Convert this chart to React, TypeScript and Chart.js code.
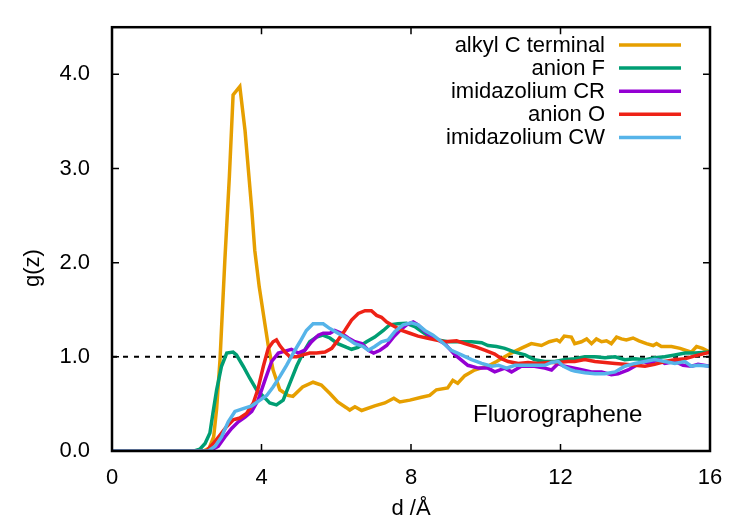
import React, { useEffect, useRef } from "react";
import { Chart, registerables } from "chart.js";

Chart.register(...registerables);

const xTicks = [0, 4, 8, 12, 16];
const yTicks = [0, 1, 2, 3, 4];

const seriesNames = [
  "alkyl C terminal",
  "anion F",
  "imidazolium CR",
  "anion O",
  "imidazolium CW",
];
const seriesColors = ["#E69F00", "#009E73", "#9400D3", "#EE2216", "#56B4E9"];

const alkylC: [number, number][] = [
  [0, 0], [2.45, 0], [2.6, 0.03], [2.72, 0.15], [2.8, 0.45], [2.89, 0.97], [3.02, 2.03],
  [3.14, 2.91], [3.24, 3.78], [3.42, 3.87], [3.56, 3.4], [3.65, 2.98], [3.74, 2.56],
  [3.82, 2.13], [3.94, 1.74], [4.09, 1.35], [4.18, 1.12], [4.31, 0.86], [4.49, 0.65],
  [4.71, 0.59], [4.84, 0.58], [5.1, 0.68], [5.38, 0.73], [5.6, 0.7], [5.83, 0.61],
  [6.04, 0.52], [6.27, 0.46], [6.36, 0.435], [6.5, 0.47], [6.68, 0.43], [7.03, 0.48],
  [7.3, 0.51], [7.54, 0.56], [7.7, 0.52], [7.97, 0.54], [8.28, 0.57], [8.5, 0.59],
  [8.68, 0.65], [8.98, 0.67], [9.12, 0.75], [9.25, 0.72], [9.44, 0.8], [9.7, 0.86],
  [10.1, 0.91], [10.29, 0.95], [10.68, 1.04], [11.0, 1.1], [11.22, 1.14], [11.49, 1.12],
  [11.7, 1.16], [11.9, 1.18], [11.98, 1.16], [12.1, 1.22], [12.29, 1.21], [12.38, 1.14],
  [12.56, 1.16], [12.7, 1.19], [12.83, 1.14], [12.96, 1.19], [13.1, 1.16], [13.23, 1.17],
  [13.36, 1.14], [13.5, 1.21], [13.63, 1.19], [13.76, 1.18], [13.94, 1.2], [14.1, 1.17],
  [14.3, 1.14], [14.48, 1.12], [14.57, 1.14], [14.7, 1.11], [14.97, 1.11], [15.2, 1.09],
  [15.5, 1.05], [15.64, 1.11], [15.8, 1.09], [16, 1.05],
];

const anionF: [number, number][] = [
  [0, 0], [2.2, 0], [2.35, 0.02], [2.49, 0.08], [2.62, 0.19], [2.7, 0.4], [2.8, 0.65],
  [2.93, 0.9], [3.07, 1.04], [3.24, 1.05], [3.33, 1.02], [3.51, 0.9], [3.69, 0.77],
  [3.87, 0.65], [4.05, 0.58], [4.22, 0.51], [4.4, 0.49], [4.58, 0.54], [4.76, 0.72],
  [4.94, 0.9], [5.11, 1.04], [5.29, 1.16], [5.47, 1.21], [5.64, 1.23], [5.83, 1.2],
  [6.04, 1.14], [6.28, 1.1], [6.41, 1.08], [6.58, 1.1], [6.81, 1.16], [7.03, 1.21],
  [7.26, 1.28], [7.43, 1.34], [7.65, 1.35], [7.88, 1.355], [8.1, 1.32], [8.28, 1.27],
  [8.5, 1.21], [8.72, 1.18], [8.98, 1.16], [9.35, 1.16], [9.62, 1.16], [9.89, 1.15],
  [10.06, 1.12], [10.29, 1.11], [10.51, 1.09], [10.78, 1.05], [11.05, 1.02], [11.3, 0.97],
  [11.58, 0.95], [11.85, 0.95], [12.1, 0.97], [12.38, 0.98], [12.65, 1.0], [12.92, 1.0],
  [13.19, 0.99], [13.46, 1.0], [13.72, 0.97], [13.99, 0.98], [14.26, 0.97], [14.52, 0.99],
  [14.79, 1.0], [15.06, 1.02], [15.33, 1.04], [15.6, 1.04], [16, 1.05],
];

const imidazoliumCR: [number, number][] = [
  [0, 0], [2.6, 0], [2.84, 0.05], [3.02, 0.15], [3.2, 0.24], [3.38, 0.31], [3.56, 0.36],
  [3.74, 0.42], [3.91, 0.54], [4.09, 0.75], [4.27, 0.95], [4.45, 1.04], [4.63, 1.06],
  [4.8, 1.08], [4.98, 1.04], [5.16, 1.07], [5.34, 1.16], [5.52, 1.23], [5.65, 1.25],
  [5.83, 1.25], [5.96, 1.28], [6.14, 1.25], [6.32, 1.2], [6.5, 1.16], [6.68, 1.14],
  [6.86, 1.07], [7.0, 1.04], [7.17, 1.07], [7.35, 1.12], [7.53, 1.21], [7.7, 1.28],
  [7.88, 1.34], [8.06, 1.37], [8.19, 1.34], [8.37, 1.27], [8.55, 1.21], [8.73, 1.18],
  [8.9, 1.14], [9.18, 1.02], [9.52, 0.91], [9.8, 0.88], [10.06, 0.88], [10.24, 0.84],
  [10.51, 0.88], [10.69, 0.84], [10.95, 0.9], [11.3, 0.9], [11.58, 0.88], [11.76, 0.86],
  [11.94, 0.93], [12.11, 0.9], [12.47, 0.87], [12.83, 0.84], [13.1, 0.84], [13.36, 0.81],
  [13.54, 0.82], [13.81, 0.86], [14.03, 0.91], [14.21, 0.95], [14.39, 0.93], [14.61, 0.97],
  [14.79, 0.93], [15.06, 0.95], [15.28, 0.91], [15.51, 0.9], [15.68, 0.92], [16, 0.9],
];

const anionO: [number, number][] = [
  [0, 0], [2.45, 0], [2.53, 0.0], [2.71, 0.08], [2.89, 0.17], [3.07, 0.26], [3.24, 0.33],
  [3.42, 0.35], [3.6, 0.4], [3.78, 0.51], [3.9, 0.65], [4.05, 0.9], [4.18, 1.09],
  [4.31, 1.16], [4.4, 1.18], [4.49, 1.12], [4.63, 1.05], [4.76, 1.0], [4.94, 1.0],
  [5.11, 1.02], [5.29, 1.04], [5.47, 1.04], [5.7, 1.05], [5.88, 1.09], [6.05, 1.18],
  [6.23, 1.28], [6.41, 1.39], [6.59, 1.46], [6.77, 1.49], [6.94, 1.49], [7.08, 1.44],
  [7.21, 1.42], [7.35, 1.37], [7.57, 1.32], [7.75, 1.28], [7.97, 1.25], [8.19, 1.22],
  [8.42, 1.2], [8.64, 1.18], [8.9, 1.16], [9.22, 1.17], [9.44, 1.14], [9.7, 1.11],
  [9.97, 1.07], [10.24, 1.03], [10.42, 0.98], [10.6, 0.95], [10.87, 0.93], [11.13, 0.94],
  [11.4, 0.93], [11.67, 0.94], [11.94, 0.94], [12.2, 0.95], [12.38, 0.95], [12.65, 0.97],
  [12.92, 0.95], [13.19, 0.94], [13.46, 0.93], [13.72, 0.92], [13.99, 0.91], [14.26, 0.9],
  [14.52, 0.92], [14.79, 0.95], [15.06, 0.97], [15.33, 0.98], [15.6, 1.01], [16, 1.05],
];

const imidazoliumCW: [number, number][] = [
  [0, 0], [2.5, 0], [2.58, 0.0], [2.76, 0.05], [2.93, 0.15], [3.11, 0.31], [3.29, 0.42],
  [3.51, 0.45], [3.74, 0.48], [3.96, 0.54], [4.14, 0.59], [4.31, 0.68], [4.49, 0.79],
  [4.67, 0.91], [4.85, 1.04], [5.03, 1.16], [5.2, 1.28], [5.38, 1.35], [5.65, 1.35],
  [5.83, 1.3], [6.05, 1.25], [6.28, 1.2], [6.5, 1.14], [6.72, 1.11], [6.86, 1.07],
  [7.03, 1.11], [7.21, 1.16], [7.39, 1.18], [7.57, 1.27], [7.79, 1.34], [8.01, 1.36],
  [8.19, 1.34], [8.37, 1.28], [8.59, 1.23], [8.82, 1.16], [9.08, 1.07], [9.35, 1.02],
  [9.62, 0.97], [9.89, 0.93], [10.16, 0.9], [10.34, 0.91], [10.56, 0.88], [10.78, 0.91],
  [11.05, 0.91], [11.32, 0.91], [11.58, 0.91], [11.76, 0.94], [11.94, 0.95], [12.08, 0.9],
  [12.29, 0.86], [12.38, 0.85], [12.65, 0.83], [12.92, 0.82], [13.19, 0.82], [13.46, 0.84],
  [13.72, 0.9], [13.99, 0.93], [14.26, 0.95], [14.52, 0.97], [14.79, 0.95], [15.06, 0.93],
  [15.33, 0.95], [15.5, 0.9], [15.68, 0.91], [16, 0.9],
];

const referenceLine: [number, number][] = [[0, 1], [16, 1]];

const FONT = '"Liberation Sans", Arial, Helvetica, sans-serif';

const overlayPlugin = {
  id: "gnuplotOverlay",
  afterDraw(chart: any) {
    const ctx = chart.ctx as CanvasRenderingContext2D;
    const { left, right, top, bottom } = chart.chartArea;
    const xs = chart.scales.x;
    const ys = chart.scales.y;
    ctx.save();
    // frame
    ctx.strokeStyle = "#000";
    ctx.lineWidth = 2.5;
    ctx.strokeRect(left, top, right - left, bottom - top);
    // ticks
    const tl = 7;
    ctx.beginPath();
    xTicks.forEach((v) => {
      const px = xs.getPixelForValue(v);
      ctx.moveTo(px, bottom);
      ctx.lineTo(px, bottom - tl);
      ctx.moveTo(px, top);
      ctx.lineTo(px, top + tl);
    });
    yTicks.forEach((v) => {
      const py = ys.getPixelForValue(v);
      ctx.moveTo(left, py);
      ctx.lineTo(left + tl, py);
      ctx.moveTo(right, py);
      ctx.lineTo(right - tl, py);
    });
    ctx.lineWidth = 1.5;
    ctx.stroke();

    // legend
    ctx.font = `22px ${FONT}`;
    ctx.fillStyle = "#000";
    ctx.textAlign = "right";
    ctx.textBaseline = "middle";
    seriesNames.forEach((name, i) => {
      const y = 45 + i * 23.1;
      ctx.fillText(name, 605, y + 1);
      ctx.beginPath();
      ctx.strokeStyle = seriesColors[i];
      ctx.lineWidth = 3.5;
      ctx.moveTo(619, y);
      ctx.lineTo(681, y);
      ctx.stroke();
    });

    // annotation
    ctx.font = `24px ${FONT}`;
    ctx.textAlign = "left";
    ctx.textBaseline = "alphabetic";
    ctx.fillStyle = "#000";
    ctx.fillText("Fluorographene", 473, 422);

    // axis titles
    ctx.font = `22px ${FONT}`;
    ctx.textAlign = "center";
    ctx.textBaseline = "middle";
    ctx.fillText("d /Å", (left + right) / 2, 509);
    ctx.translate(33, 268);
    ctx.rotate(-Math.PI / 2);
    ctx.fillText("g(z)", 0, 0);
    ctx.restore();
  },
};

export default function App() {
  const ref = useRef<HTMLCanvasElement | null>(null);
  useEffect(() => {
    document.body.style.margin = "0";
    if (!ref.current) return;
    const allSeries = [alkylC, anionF, imidazoliumCR, anionO, imidazoliumCW];
    const datasets: any[] = allSeries.map((s, i) => ({
      label: seriesNames[i],
      data: s.map(([x, y]) => ({ x, y })),
      borderColor: seriesColors[i],
      backgroundColor: seriesColors[i],
      borderWidth: 3.5,
      pointRadius: 0,
      fill: false,
      tension: 0,
      order: 10 - i,
    }));
    datasets.push({
      label: "ref",
      data: referenceLine.map(([x, y]) => ({ x, y })),
      borderColor: "#000",
      borderWidth: 2,
      borderDash: [5, 6],
      pointRadius: 0,
      fill: false,
      order: 20,
    });
    const chart = new Chart(ref.current, {
      type: "line",
      data: { datasets },
      plugins: [overlayPlugin],
      options: {
        animation: false,
        responsive: false,
        maintainAspectRatio: false,
        layout: { padding: { left: 0, right: 40, top: 27, bottom: 0 } },
        plugins: { legend: { display: false }, tooltip: { enabled: false } },
        scales: {
          x: {
            type: "linear",
            min: 0,
            max: 16,
            afterBuildTicks: (scale: any) => {
              scale.ticks = xTicks.map((v) => ({ value: v }));
            },
            afterFit: (scale: any) => {
              scale.height = 74;
            },
            grid: { display: false },
            border: { display: false },
            ticks: {
              color: "#000",
              font: { family: FONT, size: 22 },
              padding: 6,
              maxRotation: 0,
              callback: (v: any) => String(v),
            },
          },
          y: {
            type: "linear",
            min: 0,
            max: 4.5,
            afterBuildTicks: (scale: any) => {
              scale.ticks = yTicks.map((v) => ({ value: v }));
            },
            afterFit: (scale: any) => {
              scale.width = 112;
            },
            grid: { display: false },
            border: { display: false },
            ticks: {
              color: "#000",
              font: { family: FONT, size: 22 },
              padding: 14,
              callback: (v: any) => Number(v).toFixed(1),
            },
          },
        },
      },
    });
    return () => chart.destroy();
  }, []);
  return (
    <div style={{ position: "fixed", left: 0, top: 0, width: 750, height: 525, background: "#fff" }}>
      <canvas ref={ref} width={750} height={525} style={{ width: 750, height: 525 }} />
    </div>
  );
}
